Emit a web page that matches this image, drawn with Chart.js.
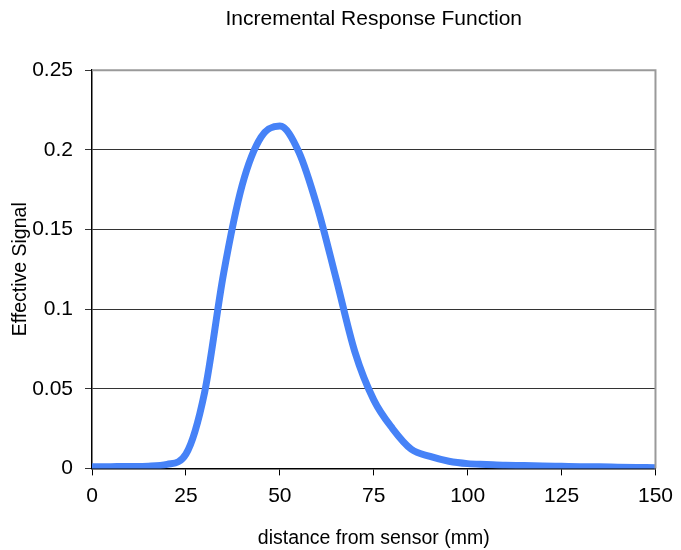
<!DOCTYPE html>
<html>
<head>
<meta charset="utf-8">
<script src="https://cdn.jsdelivr.net/npm/chart.js@4"></script>
<style>
  html, body { margin: 0; padding: 0; background: #fff; }
  #wrap { width: 681px; height: 550px; }
</style>
</head>
<body>
<div id="wrap"><canvas id="myChart"></canvas></div>
<script>
// distance from sensor (mm)
var distances = [0, 5, 10, 15, 20, 25, 30, 35, 40, 45, 50, 55, 60, 65, 70, 75,
  80, 85, 90, 95, 100, 105, 110, 115, 120, 125, 130, 135, 140, 145, 150];
// effective signal
var signal = [0.001, 0.0011, 0.0012, 0.0014, 0.0025, 0.009, 0.048, 0.122, 0.178, 0.208,
  0.215, 0.199, 0.164, 0.119, 0.073, 0.043, 0.025, 0.012, 0.0075, 0.0045,
  0.003, 0.0025, 0.002, 0.0018, 0.0015, 0.0013, 0.0011, 0.001, 0.0008, 0.0006, 0.0004];
var xTicks = [0, 25, 50, 75, 100, 125, 150];
var yTicks = [0, 0.05, 0.1, 0.15, 0.2, 0.25];

var font = "'Liberation Sans', Arial, sans-serif";

// gray frame on top and right like the original
const frame = {
  id: "frame",
  afterDatasetsDraw(chart) {
    const a = chart.chartArea;
    const ctx = chart.ctx;
    ctx.save();
    ctx.strokeStyle = "#9a9a9a";
    ctx.lineWidth = 2;
    ctx.beginPath();
    ctx.moveTo(a.left, a.top);
    ctx.lineTo(a.right, a.top);
    ctx.lineTo(a.right, a.bottom);
    ctx.stroke();
    ctx.restore();
  },
};

const ctx = document.getElementById("myChart").getContext("2d");
new Chart(ctx, {
  type: "line",
  data: {
    datasets: [
      {
        label: "Effective Signal",
        data: distances.map((d, i) => ({ x: d, y: signal[i] })),
        borderColor: "#4682f7",
        borderWidth: 7,
        pointRadius: 0,
        fill: false,
        cubicInterpolationMode: "monotone",
      },
    ],
  },
  plugins: [frame],
  options: {
    responsive: true,
    maintainAspectRatio: false,
    animation: false,
    layout: { padding: { top: 0, right: 25, left: 9, bottom: 0 } },
    plugins: {
      legend: { display: false },
      tooltip: { enabled: false },
      title: {
        display: true,
        fullSize: false,
        text: "Incremental Response Function",
        color: "#000",
        font: { family: font, size: 21, weight: "normal" },
        padding: { top: 7, bottom: 38 },
      },
    },
    scales: {
      x: {
        type: "linear",
        min: 0,
        max: 150,
        afterBuildTicks: (axis) => { axis.ticks = xTicks.map((v) => ({ value: v })); },
        grid: { drawOnChartArea: false, drawTicks: true, tickLength: 7, color: "#000" },
        border: { color: "#000", width: 1.5 },
        ticks: { color: "#000", font: { family: font, size: 21 }, padding: 8, maxRotation: 0 },
        title: {
          display: true,
          text: "distance from sensor (mm)",
          color: "#000",
          font: { family: font, size: 19.5 },
          padding: { top: 10, bottom: 0 },
        },
      },
      y: {
        min: 0,
        max: 0.25,
        afterBuildTicks: (axis) => { axis.ticks = yTicks.map((v) => ({ value: v })); },
        afterFit: (axis) => { axis.width = 83; },
        grid: { color: "#333", lineWidth: 1, tickLength: 7 },
        border: { color: "#000", width: 1.5 },
        ticks: {
          color: "#000",
          font: { family: font, size: 21 },
          padding: 12,
          callback: (v) => String(v),
        },
        title: {
          display: true,
          text: "Effective Signal",
          color: "#000",
          font: { family: font, size: 19.5 },
          padding: { top: 0, bottom: 0 },
        },
      },
    },
  },
});
</script>
</body>
</html>
